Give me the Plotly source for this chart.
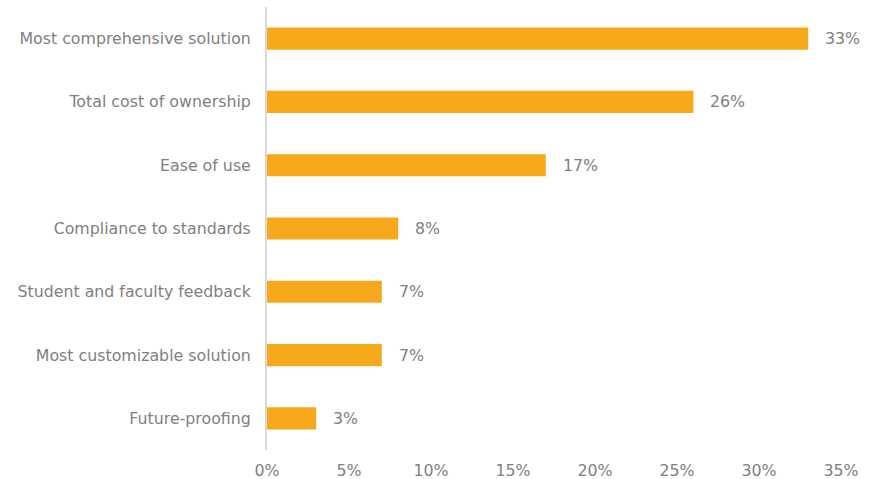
import plotly.graph_objects as go

# Survey results: top purchase criteria
criteria = [
    "Most comprehensive solution",
    "Total cost of ownership",
    "Ease of use",
    "Compliance to standards",
    "Student and faculty feedback",
    "Most customizable solution",
    "Future-proofing",
]
shares = [33, 26, 17, 8, 7, 7, 3]
x_ticks = [0, 5, 10, 15, 20, 25, 30, 35]
x_tick_labels = [f"{t}%" for t in x_ticks]

BAR = "#F7A81B"
GREY = "#808080"
FONT = "DejaVu Sans, Verdana, sans-serif"
SIZE = 15.8

fig = go.Figure(
    go.Bar(
        x=shares,
        y=criteria,
        orientation="h",
        marker=dict(color=BAR, line=dict(width=0)),
        width=0.35,
        hoverinfo="x+y",
    )
)

# value labels just past the end of each bar
for label, value in zip(criteria, shares):
    fig.add_annotation(
        x=value,
        y=label,
        text=f"{value}%",
        showarrow=False,
        xanchor="left",
        xshift=15,
        font=dict(family=FONT, size=SIZE, color=GREY),
    )

fig.update_layout(
    width=881,
    height=479,
    margin=dict(l=267, r=40, t=7, b=29),
    paper_bgcolor="white",
    plot_bgcolor="white",
    showlegend=False,
    font=dict(family=FONT, size=SIZE, color=GREY),
)

fig.update_xaxes(
    range=[0, 35],
    tickvals=x_ticks,
    ticktext=x_tick_labels,
    showgrid=False,
    zeroline=False,
    showline=False,
    ticks="",
    ticklabelstandoff=9,
    automargin=False,
    tickfont=dict(family=FONT, size=SIZE, color=GREY),
)

fig.update_yaxes(
    categoryorder="array",
    categoryarray=list(reversed(criteria)),
    showgrid=False,
    zeroline=False,
    showline=True,
    linecolor="#D9D9D9",
    linewidth=2,
    ticks="",
    ticklabelstandoff=11,
    automargin=False,
    tickfont=dict(family=FONT, size=SIZE, color=GREY),
)

fig.write_html("out.html")
